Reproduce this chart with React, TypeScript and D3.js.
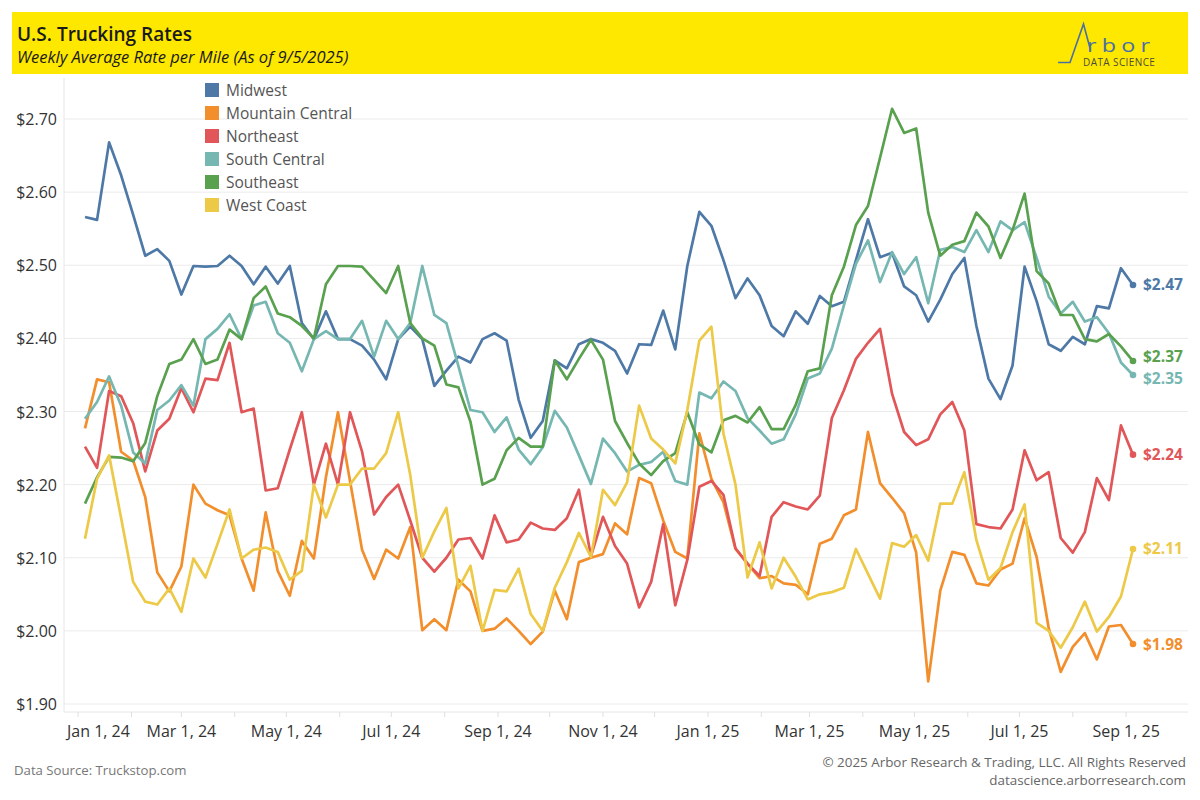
import React, { useEffect, useRef } from 'react';
import * as d3 from 'd3';

// weekly series, first week ending Jan 5 2024, last Sep 5 2025
const regions = ['Midwest', 'Mountain Central', 'Northeast', 'South Central', 'Southeast', 'West Coast'];
const colors = ['#4e79a7', '#f28e2b', '#e15759', '#76b7b2', '#59a14f', '#edc948'];

const midwest = [
  2.566, 2.562, 2.668, 2.623, 2.569, 2.513, 2.522, 2.506, 2.460, 2.499, 2.498, 2.499, 2.513, 2.499, 2.474,
  2.498, 2.475, 2.499, 2.421, 2.399, 2.437, 2.399, 2.399, 2.390, 2.371, 2.344, 2.399, 2.416, 2.399, 2.335, 2.356,
  2.375, 2.367, 2.399, 2.407, 2.397, 2.316, 2.264, 2.287, 2.370, 2.359, 2.392, 2.399, 2.394, 2.383, 2.352, 2.392,
  2.391, 2.438, 2.385, 2.499, 2.573, 2.554, 2.507, 2.455, 2.482, 2.459, 2.417, 2.403, 2.437, 2.420, 2.458,
  2.444, 2.450, 2.507, 2.563, 2.511, 2.517, 2.471, 2.459, 2.423, 2.453, 2.488, 2.510, 2.417, 2.345, 2.317, 2.363,
  2.498, 2.451, 2.392, 2.383, 2.402, 2.392, 2.444, 2.441, 2.496, 2.473,
];
const mountainCentral = [
  2.277, 2.344, 2.340, 2.245, 2.233, 2.183, 2.080, 2.054, 2.088, 2.200, 2.174, 2.165, 2.158, 2.099, 2.055,
  2.162, 2.082, 2.048, 2.123, 2.099, 2.210, 2.299, 2.205, 2.111, 2.071, 2.111, 2.099, 2.142, 2.001, 2.016, 2.001,
  2.070, 2.054, 2.000, 2.003, 2.017, 2.000, 1.982, 1.999, 2.055, 2.016, 2.094, 2.100, 2.105, 2.147, 2.132, 2.209,
  2.202, 2.151, 2.108, 2.099, 2.270, 2.208, 2.176, 2.112, 2.092, 2.072, 2.075, 2.065, 2.063, 2.050, 2.119,
  2.126, 2.158, 2.166, 2.272, 2.202, 2.182, 2.161, 2.107, 1.931, 2.055, 2.108, 2.104, 2.065, 2.062, 2.084, 2.092,
  2.154, 2.101, 2.004, 1.944, 1.978, 1.997, 1.961, 2.006, 2.008, 1.982,
];
const northeast = [
  2.252, 2.223, 2.328, 2.321, 2.284, 2.218, 2.274, 2.290, 2.332, 2.299, 2.345, 2.343, 2.394, 2.299, 2.304,
  2.192, 2.195, 2.248, 2.299, 2.200, 2.256, 2.200, 2.299, 2.245, 2.159, 2.183, 2.200, 2.151, 2.100, 2.081, 2.100,
  2.125, 2.127, 2.099, 2.158, 2.121, 2.125, 2.148, 2.140, 2.138, 2.154, 2.193, 2.102, 2.156, 2.116, 2.092, 2.032,
  2.067, 2.146, 2.035, 2.097, 2.197, 2.205, 2.186, 2.113, 2.092, 2.075, 2.156, 2.176, 2.170, 2.166, 2.185,
  2.291, 2.329, 2.372, 2.394, 2.413, 2.324, 2.272, 2.254, 2.262, 2.296, 2.313, 2.274, 2.146, 2.142, 2.140, 2.166,
  2.247, 2.206, 2.217, 2.127, 2.107, 2.135, 2.209, 2.179, 2.281, 2.241,
];
const southCentral = [
  2.290, 2.313, 2.348, 2.308, 2.244, 2.229, 2.302, 2.315, 2.336, 2.308, 2.399, 2.413, 2.433, 2.399, 2.445,
  2.450, 2.407, 2.394, 2.355, 2.399, 2.410, 2.399, 2.399, 2.424, 2.375, 2.424, 2.399, 2.421, 2.499, 2.432, 2.421,
  2.362, 2.302, 2.299, 2.272, 2.292, 2.248, 2.228, 2.251, 2.301, 2.278, 2.240, 2.201, 2.263, 2.243, 2.218, 2.227,
  2.231, 2.245, 2.205, 2.200, 2.326, 2.318, 2.341, 2.328, 2.291, 2.274, 2.256, 2.262, 2.296, 2.345, 2.352,
  2.386, 2.445, 2.502, 2.534, 2.477, 2.518, 2.488, 2.511, 2.448, 2.521, 2.525, 2.518, 2.548, 2.518, 2.560, 2.548,
  2.559, 2.510, 2.457, 2.434, 2.450, 2.423, 2.429, 2.407, 2.367, 2.350,
];
const southeast = [
  2.174, 2.210, 2.238, 2.237, 2.232, 2.257, 2.321, 2.365, 2.371, 2.399, 2.365, 2.371, 2.412, 2.399, 2.455,
  2.471, 2.434, 2.429, 2.417, 2.400, 2.474, 2.499, 2.499, 2.498, 2.480, 2.462, 2.499, 2.421, 2.400, 2.390, 2.337,
  2.333, 2.286, 2.200, 2.208, 2.247, 2.264, 2.252, 2.252, 2.370, 2.344, 2.372, 2.398, 2.371, 2.287, 2.257, 2.229,
  2.213, 2.232, 2.243, 2.299, 2.255, 2.244, 2.288, 2.294, 2.285, 2.306, 2.276, 2.276, 2.309, 2.355, 2.359,
  2.459, 2.498, 2.555, 2.581, 2.647, 2.714, 2.681, 2.687, 2.572, 2.513, 2.528, 2.533, 2.572, 2.553, 2.510, 2.548,
  2.598, 2.492, 2.475, 2.432, 2.432, 2.399, 2.396, 2.406, 2.389, 2.369,
];
const westCoast = [
  2.126, 2.208, 2.240, 2.154, 2.067, 2.040, 2.036, 2.058, 2.026, 2.099, 2.073, 2.119, 2.166, 2.099, 2.111,
  2.114, 2.108, 2.070, 2.082, 2.200, 2.155, 2.200, 2.200, 2.222, 2.222, 2.243, 2.299, 2.213, 2.100, 2.136, 2.168,
  2.058, 2.089, 2.000, 2.056, 2.054, 2.085, 2.023, 2.000, 2.059, 2.094, 2.134, 2.101, 2.193, 2.172, 2.203, 2.308,
  2.263, 2.248, 2.229, 2.302, 2.397, 2.416, 2.270, 2.200, 2.073, 2.121, 2.058, 2.100, 2.074, 2.043, 2.050,
  2.053, 2.059, 2.112, 2.078, 2.044, 2.120, 2.115, 2.131, 2.096, 2.174, 2.174, 2.217, 2.124, 2.070, 2.086, 2.135,
  2.173, 2.011, 2.000, 1.977, 2.005, 2.040, 1.999, 2.019, 2.047, 2.112,
];

const yTicks = [1.9, 2.0, 2.1, 2.2, 2.3, 2.4, 2.5, 2.6, 2.7];
const firstWeek = new Date(2024, 0, 5);
const lastWeek = new Date(2025, 8, 5);

const FONT = '"Open Sans", "DejaVu Sans", sans-serif';

export default function App() {
  const svgRef = useRef<SVGSVGElement>(null);

  useEffect(() => {
    if (!svgRef.current) return;
    const svg = d3.select(svgRef.current);
    svg.selectAll('*').remove();

    const allSeries = [midwest, mountainCentral, northeast, southCentral, southeast, westCoast];
    const dates = midwest.map((_, i) => d3.timeDay.offset(firstWeek, i * 7));

    const plotLeft = 64;
    const plotRight = 1188;
    const plotBottom = 712;

    const x = d3.scaleTime().domain([firstWeek, lastWeek]).range([85, 1133]);
    const y = d3.scaleLinear().domain([1.9, 2.7]).range([704, 119]);

    // header band
    svg.append('rect')
      .attr('x', 12).attr('y', 12).attr('width', 1176).attr('height', 62)
      .attr('fill', '#ffe800');
    svg.append('text')
      .attr('x', 17).attr('y', 41)
      .style('font-family', FONT).style('font-size', '19px').style('font-weight', 600)
      .attr('fill', '#1a1a1a')
      .text('U.S. Trucking Rates');
    svg.append('text')
      .attr('x', 17).attr('y', 63)
      .style('font-family', FONT).style('font-size', '16.5px').style('font-style', 'italic')
      .attr('fill', '#1a1a1a')
      .text('Weekly Average Rate per Mile (As of 9/5/2025)');

    // logo
    const logo = svg.append('g');
    logo.append('path')
      .attr('d', 'M1058,62.5 L1070,62.5 L1083.5,24 L1090.5,50')
      .attr('fill', 'none').attr('stroke', '#4a6fa5').attr('stroke-width', 1.6);
    logo.append('text')
      .attr('transform', 'translate(1087,51.5) scale(1.3,1)')
      .style('font-family', FONT).style('font-size', '18px').style('font-weight', 400)
      .style('letter-spacing', '4px')
      .attr('fill', '#4a6fa5')
      .text('rbor');
    logo.append('text')
      .attr('x', 1083).attr('y', 66)
      .style('font-family', FONT).style('font-size', '10px')
      .style('letter-spacing', '0.4px')
      .attr('fill', '#4d4d3a')
      .text('DATA SCIENCE');

    // grid + axes
    const g = svg.append('g');
    g.selectAll('line.grid')
      .data(yTicks)
      .enter()
      .append('line')
      .attr('x1', plotLeft).attr('x2', plotRight)
      .attr('y1', d => y(d)).attr('y2', d => y(d))
      .attr('stroke', '#ebebeb').attr('stroke-width', 1);

    g.selectAll('text.ylab')
      .data(yTicks)
      .enter()
      .append('text')
      .attr('x', 57).attr('y', d => y(d) + 6)
      .attr('text-anchor', 'end')
      .style('font-family', FONT).style('font-size', '16px')
      .attr('fill', '#333')
      .text(d => `$${d.toFixed(2)}`);

    g.append('line')
      .attr('x1', plotLeft).attr('x2', plotLeft).attr('y1', 78).attr('y2', plotBottom)
      .attr('stroke', '#e6e6e6');
    g.append('line')
      .attr('x1', plotLeft).attr('x2', plotRight).attr('y1', plotBottom).attr('y2', plotBottom)
      .attr('stroke', '#e6e6e6');

    const monthTicks = d3.timeMonth.range(new Date(2024, 0, 1), new Date(2025, 9, 1));
    g.selectAll('line.xtick')
      .data(monthTicks)
      .enter()
      .append('line')
      .attr('x1', d => x(d)).attr('x2', d => x(d))
      .attr('y1', plotBottom).attr('y2', plotBottom + 5)
      .attr('stroke', '#e0e0e0');

    const labelTicks = d3.timeMonth.every(2)!.range(new Date(2024, 0, 1), new Date(2025, 9, 1));
    const fmt = d3.timeFormat('%b %-d, %y');
    g.selectAll('text.xlab')
      .data(labelTicks)
      .enter()
      .append('text')
      .attr('x', (d, i) => (i === 0 ? 67 : x(d)))
      .attr('y', 737)
      .attr('text-anchor', (d, i) => (i === 0 ? 'start' : 'middle'))
      .style('font-family', FONT).style('font-size', '16px')
      .attr('fill', '#333')
      .text(d => fmt(d));

    // lines
    const line = d3.line<number>()
      .x((_, i) => x(dates[i]))
      .y(d => y(d));

    allSeries.forEach((s, k) => {
      g.append('path')
        .datum(s)
        .attr('d', line)
        .attr('fill', 'none')
        .attr('stroke', colors[k])
        .attr('stroke-width', 2.7)
        .attr('stroke-linejoin', 'round');
    });

    // end dots + labels
    const last = dates[dates.length - 1];
    const ends = allSeries.map((s, k) => ({ k, v: s[s.length - 1], ly: y(s[s.length - 1]) }));
    const sorted = [...ends].sort((a, b) => a.ly - b.ly);
    for (let pass = 0; pass < 10; pass++) {
      for (let i = 1; i < sorted.length; i++) {
        const gap = sorted[i].ly - sorted[i - 1].ly;
        if (gap < 22) {
          const shift = (22 - gap) / 2;
          sorted[i].ly += shift;
          sorted[i - 1].ly -= shift;
        }
      }
    }
    ends.forEach(e => {
      g.append('circle')
        .attr('cx', x(last)).attr('cy', y(e.v)).attr('r', 3.3)
        .attr('fill', colors[e.k]);
      g.append('text')
        .attr('x', 1143).attr('y', e.ly + 5.5)
        .style('font-family', FONT).style('font-size', '15.5px').style('font-weight', 700)
        .attr('fill', colors[e.k])
        .text(`$${e.v.toFixed(2)}`);
    });

    // legend
    const legend = svg.append('g');
    regions.forEach((r, i) => {
      legend.append('rect')
        .attr('x', 205).attr('y', 83 + i * 23).attr('width', 14).attr('height', 14)
        .attr('fill', colors[i]);
      legend.append('text')
        .attr('x', 226).attr('y', 95.5 + i * 23)
        .style('font-family', FONT).style('font-size', '15.5px')
        .attr('fill', '#555')
        .text(r);
    });

    // footer
    svg.append('text')
      .attr('x', 14).attr('y', 775)
      .style('font-family', FONT).style('font-size', '13.2px')
      .attr('fill', '#777')
      .text('Data Source: Truckstop.com');
    svg.append('text')
      .attr('x', 1186).attr('y', 767)
      .attr('text-anchor', 'end')
      .style('font-family', FONT).style('font-size', '13.4px')
      .attr('fill', '#666')
      .text('© 2025 Arbor Research & Trading, LLC. All Rights Reserved');
    svg.append('text')
      .attr('x', 1186).attr('y', 785)
      .attr('text-anchor', 'end')
      .style('font-family', FONT).style('font-size', '13.4px')
      .attr('fill', '#666')
      .text('datascience.arborresearch.com');
  }, []);

  return (
    <div style={{ position: 'absolute', left: 0, top: 0, width: 1200, height: 800, background: '#fff' }}>
      <svg ref={svgRef} width={1200} height={800} viewBox="0 0 1200 800" />
    </div>
  );
}
